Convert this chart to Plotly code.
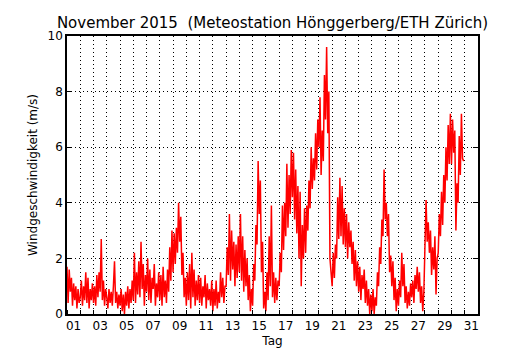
import plotly.graph_objects as go

# Wind speed (m/s), 2-hourly samples (00,02,...,22 h) for each day of November 2015
d01 = [1.7, 0.4, 1.6, 0.8, 1.3, 0.3, 1.1, 0.5, 1.0, 0.2, 0.9, 0.4]
d02 = [0.6, 1.2, 0.3, 1.0, 0.5, 1.5, 0.4, 1.3, 0.2, 0.9, 0.5, 1.1]
d03 = [0.4, 1.0, 0.3, 1.4, 0.6, 1.5, 0.8, 2.7, 0.5, 1.2, 0.3, 0.9]
d04 = [0.6, 0.2, 0.9, 0.4, 0.8, 0.3, 1.0, 1.9, 0.4, 0.8, 0.2, 0.7]
d05 = [0.3, 0.9, 0.1, 0.7, 0.0, 0.8, 0.3, 1.0, 0.2, 0.9, 0.4, 1.2]
d06 = [0.5, 2.2, 0.4, 1.5, 0.7, 1.9, 0.6, 2.6, 0.9, 1.8, 0.3, 1.4]
d07 = [0.8, 2.0, 0.5, 1.6, 0.4, 1.3, 0.9, 1.8, 0.3, 1.1, 0.6, 1.5]
d08 = [0.5, 1.4, 0.3, 1.7, 0.6, 1.2, 0.4, 1.6, 0.8, 2.4, 1.2, 3.0]
d09 = [1.5, 2.9, 1.8, 3.1, 2.2, 4.0, 2.6, 3.5, 1.4, 2.2, 0.6, 1.3]
d10 = [0.3, 1.5, 0.5, 1.8, 0.2, 2.2, 0.6, 1.6, 0.3, 1.2, 0.5, 1.4]
d11 = [0.4, 1.3, 0.3, 1.0, 0.6, 1.4, 0.2, 1.1, 0.5, 0.9, 0.3, 1.2]
d12 = [0.1, 0.9, 0.3, 1.2, 0.2, 0.8, 0.4, 1.5, 0.6, 1.3, 0.4, 1.0]
d13 = [1.0, 2.4, 1.4, 3.6, 1.2, 3.0, 1.6, 2.6, 1.0, 2.5, 1.3, 2.8]
d14 = [1.5, 3.6, 1.2, 2.8, 0.8, 2.3, 1.0, 2.0, 0.5, 1.4, 0.1, 0.9]
d15 = [0.3, 1.8, 1.2, 3.2, 2.5, 5.5, 3.6, 4.8, 1.5, 2.6, 0.2, 0.8]
d16 = [0.1, 1.5, 0.5, 2.8, 1.0, 3.9, 0.6, 1.5, 0.4, 1.3, 0.5, 1.2]
d17 = [1.0, 2.2, 1.5, 3.9, 2.3, 4.0, 2.8, 5.4, 3.1, 5.0, 3.6, 5.9]
d18 = [4.2, 5.8, 3.4, 5.2, 2.9, 4.6, 2.0, 4.4, 1.0, 3.2, 2.0, 3.8]
d19 = [2.2, 3.9, 3.0, 4.8, 3.8, 6.0, 4.5, 5.6, 4.8, 6.5, 5.2, 7.0]
d20 = [6.0, 7.8, 5.0, 6.6, 5.5, 8.6, 7.0, 9.6, 6.5, 8.0, 2.0, 1.4]
d21 = [1.0, 2.2, 1.3, 2.5, 2.0, 4.2, 2.7, 4.9, 2.8, 4.6, 2.5, 3.8]
d22 = [2.4, 3.6, 2.0, 3.3, 2.4, 3.0, 1.8, 2.6, 1.2, 2.3, 1.0, 1.9]
d23 = [0.8, 1.7, 0.5, 1.4, 0.9, 1.6, 0.4, 1.2, 0.3, 0.9, 0.0, 0.7]
d24 = [0.1, 0.9, 0.0, 0.6, 0.3, 1.5, 1.0, 2.4, 1.8, 3.4, 2.8, 5.2]
d25 = [3.4, 4.0, 2.8, 3.6, 1.5, 2.1, 1.0, 1.9, 0.5, 1.3, 0.1, 0.9]
d26 = [0.3, 1.2, 0.6, 2.2, 1.0, 1.8, 0.4, 1.0, 0.2, 0.8, 0.3, 1.1]
d27 = [0.6, 1.2, 0.4, 1.4, 0.9, 1.7, 0.8, 1.5, 0.4, 1.0, 0.1, 0.8]
d28 = [2.9, 4.1, 2.6, 3.3, 2.2, 3.0, 1.4, 2.4, 1.6, 2.8, 0.7, 2.0]
d29 = [2.2, 3.6, 2.8, 4.4, 3.2, 5.0, 4.0, 6.0, 4.8, 6.8, 5.4, 7.2]
d30 = [5.4, 7.0, 5.8, 6.6, 3.0, 4.7, 4.0, 6.4, 5.0, 7.2, 5.6, 5.5]

days = [d01, d02, d03, d04, d05, d06, d07, d08, d09, d10,
        d11, d12, d13, d14, d15, d16, d17, d18, d19, d20,
        d21, d22, d23, d24, d25, d26, d27, d28, d29, d30]
hours = [0, 2, 4, 6, 8, 10, 12, 14, 16, 18, 20, 22]

tick_labels = ["01", "03", "05", "07", "09", "11", "13", "15", "17", "19",
               "21", "23", "25", "27", "29", "31"]
tick_days = [int(t) for t in tick_labels]

x = []
y = []
for i, vals in enumerate(days):
    for h, v in zip(hours, vals):
        x.append(i + 1 + h / 24.0)
        y.append(v)

font = "DejaVu Sans, Verdana, sans-serif"

fig = go.Figure()
fig.add_trace(go.Scatter(x=x, y=y, mode="lines",
                         line=dict(color="#ff0000", width=1.5),
                         hoverinfo="skip", showlegend=False))

# page body has an 8px default margin, so margins are reduced accordingly
fig.update_layout(
    width=530, height=350,
    margin=dict(l=59, r=60, t=28, b=44, autoexpand=False),
    paper_bgcolor="white", plot_bgcolor="white",
    font=dict(family=font, size=12, color="black"),
    title=dict(text="November 2015  (Meteostation Hönggerberg/ETH Zürich)",
               x=0.5, xref="paper", xanchor="center",
               y=1, yref="paper", yanchor="bottom",
               pad=dict(b=8),
               font=dict(family=font, size=15, color="black")),
)

fig.update_xaxes(
    automargin=False,
    range=[1, 32],
    tickmode="array",
    tickvals=[d + 0.5 for d in tick_days],
    ticktext=tick_labels,
    ticks="", showgrid=False, zeroline=False,
    showline=True, linecolor="black", linewidth=1.5, mirror=True,
    tickfont=dict(size=12),
    title=dict(text="Tag", font=dict(size=12), standoff=4),
    minor=dict(tickmode="linear", tick0=1, dtick=1, ticks="inside", ticklen=4,
               tickcolor="black", showgrid=True, gridcolor="black",
               griddash="1px,3px", gridwidth=1),
)
fig.update_yaxes(
    automargin=False,
    range=[0, 10],
    tickmode="linear", tick0=0, dtick=2,
    ticks="inside", ticklen=5, tickcolor="black",
    showgrid=True, gridcolor="black", griddash="1px,3px", gridwidth=1,
    zeroline=False,
    showline=True, linecolor="black", linewidth=1.5, mirror="allticks",
    tickfont=dict(size=12),
    title=dict(text="Windgeschwindigkeit (m/s)", font=dict(size=12), standoff=7),
)

fig.write_html("out.html")
